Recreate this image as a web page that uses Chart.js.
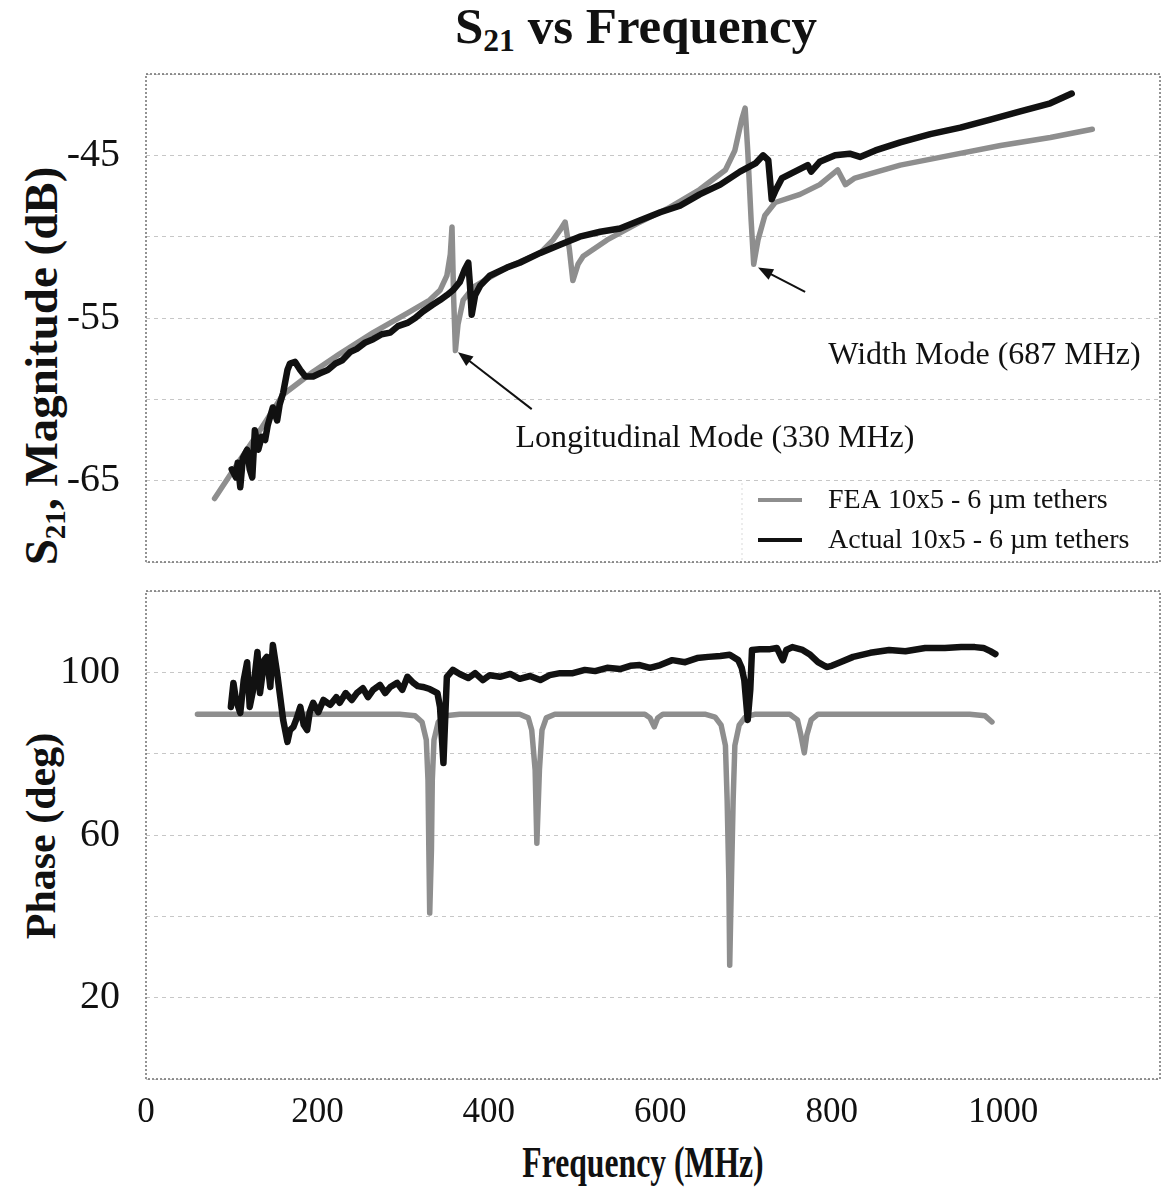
<!DOCTYPE html>
<html>
<head>
<meta charset="utf-8">
<script src="https://cdn.jsdelivr.net/npm/chart.js@4.4.1/dist/chart.umd.min.js"></script>
<style>
  body { margin: 0; background: #fff; }
  #wrap { position: relative; width: 1166px; height: 1188px; font-family: "Liberation Serif", "Times New Roman", serif; color: #111; }
  #wrap canvas { position: absolute; left: 0; }
  .lbl { position: absolute; white-space: nowrap; font-weight: bold; line-height: 1; }
  .lbl sub { font-size: 0.62em; vertical-align: -0.28em; line-height: 0; }
</style>
</head>
<body>
<div id="wrap">
  <div class="lbl" id="title" style="left:636px; top:26px; font-size:51px; transform:translate(-50%,-50%);">S<sub>21</sub> vs Frequency</div>
  <div class="lbl" style="left:41px; top:366px; font-size:47px; transform:translate(-50%,-50%) rotate(-90deg);">S<sub>21</sub>, Magnitude (dB)</div>
  <div class="lbl" style="left:41px; top:836px; font-size:42px; transform:translate(-50%,-50%) rotate(-90deg);">Phase (deg)</div>
  <div class="lbl" style="left:643px; top:1163px; font-size:44px; transform:translate(-50%,-50%) scaleX(0.72);">Frequency (MHz)</div>
  <canvas id="magChart" width="1166" height="575" style="top:0"></canvas>
  <canvas id="phaseChart" width="1166" height="613" style="top:575px"></canvas>
</div>
<script>
// S21 magnitude, FEA model (MHz, dB)
const topFeaFreq = [80, 110, 133, 160, 180, 195, 226, 265, 305, 331, 343, 351, 355, 357, 359, 361, 364, 370, 382, 401,
  421, 460, 475, 483, 489, 494, 498, 504, 510, 538, 573, 611, 646, 676, 687, 695, 699, 702, 706, 709,
  714, 722, 734, 763, 786, 807, 816, 827, 880, 938, 997, 1055, 1104];
const topFeaMag = [-66.1, -63.7, -61.9, -59.7, -58.9, -58.3, -57.2, -55.9, -54.7, -53.9, -53.3, -52.4, -51.1, -49.4, -53.9, -57.0, -55.4, -53.9, -53.1, -52.5,
  -51.9, -51.0, -50.2, -49.6, -49.1, -50.8, -52.7, -51.7, -51.2, -50.2, -49.2, -48.2, -47.1, -45.9, -44.7, -42.8, -42.1, -44.7, -49.0, -51.7,
  -50.2, -48.7, -47.9, -47.4, -46.8, -45.9, -46.8, -46.4, -45.6, -45.0, -44.4, -43.9, -43.4];

// S21 magnitude, measured (MHz, dB)
const topActFreq = [100, 105, 107, 110, 113, 118, 121, 124, 127, 131, 135, 139, 142, 148, 153, 156, 160, 165, 168, 174,
  180, 186, 195, 203, 212, 221, 229, 238, 246, 256, 265, 275, 285, 294, 305, 314, 323, 334, 343, 351,
  358, 366, 372, 376, 378, 380, 384, 390, 401, 421, 436, 460, 483, 506, 530, 553, 576, 600, 623, 646,
  670, 693, 711, 720, 726, 730, 735, 742, 757, 772, 776, 786, 804, 821, 833, 851, 880, 915, 950, 985,
  1020, 1055, 1080];
const topActMag = [-64.3, -64.8, -63.9, -65.4, -63.6, -63.1, -64.3, -64.8, -61.9, -63.1, -62.3, -62.5, -61.6, -60.5, -61.3, -60.3, -59.6, -58.2, -57.8, -57.7,
  -58.2, -58.6, -58.6, -58.4, -58.2, -57.8, -57.6, -57.1, -56.9, -56.5, -56.3, -56.0, -55.9, -55.5, -55.3, -55.0, -54.6, -54.2, -53.9, -53.6,
  -53.3, -52.8, -52.0, -51.6, -53.0, -54.8, -53.6, -53.0, -52.4, -51.9, -51.6, -51.0, -50.5, -50.0, -49.7, -49.5, -49.0, -48.5, -48.1, -47.4,
  -46.8, -46.0, -45.5, -45.0, -45.3, -47.7, -47.1, -46.4, -46.0, -45.6, -46.0, -45.4, -45.0, -44.9, -45.1, -44.7, -44.2, -43.7, -43.3, -42.8,
  -42.3, -41.8, -41.2];

// Phase, FEA model (MHz, deg)
const botFeaFreq = [60, 121, 200, 296, 314, 322, 327, 329, 330, 331, 333, 334, 336, 341, 349, 366, 436, 446, 450, 454,
  456, 459, 462, 467, 477, 582, 588, 593, 597, 603, 652, 664, 671, 676, 678, 680, 681, 683, 685, 687,
  692, 699, 711, 751, 760, 764, 768, 771, 776, 784, 961, 979, 987];
const botFeaPhase = [89.7, 89.7, 89.7, 89.7, 89.3, 87.8, 83.4, 73.5, 56.3, 40.8, 56.3, 73.5, 83.4, 87.8, 89.3, 89.7, 89.7, 88.8, 85.8, 76,
  58, 76, 85.8, 88.8, 89.7, 89.7, 88.8, 86.6, 88.8, 89.7, 89.7, 89, 87, 82, 68.6, 48.9, 28, 48.9, 68.6, 82,
  87, 89, 89.7, 89.7, 88.3, 84.6, 80.2, 84.6, 88.3, 89.7, 89.7, 89.3, 87.8];

// Phase, measured (MHz, deg)
const botActFreq = [99, 102, 105, 110, 114, 118, 121, 125, 130, 133, 138, 141, 145, 148, 153, 156, 160, 165, 168, 172,
  176, 180, 184, 188, 191, 195, 201, 207, 215, 222, 226, 233, 240, 246, 253, 259, 265, 273, 279, 285,
  293, 299, 305, 312, 317, 323, 331, 340, 343, 345, 347, 349, 351, 358, 366, 376, 384, 393, 401, 413,
  425, 436, 448, 460, 471, 483, 498, 512, 524, 538, 553, 565, 576, 588, 600, 614, 629, 643, 656, 670,
  681, 691, 695, 698, 700, 702, 705, 707, 716, 728, 736, 741, 743, 747, 754, 766, 775, 784, 794, 800,
  810, 825, 845, 867, 886, 909, 932, 951, 967, 977, 985, 991];
const botActPhase = [91.5, 97.4, 93.2, 90.0, 98.1, 102.5, 91.5, 95.7, 105.0, 94.9, 103.0, 103.8, 96.4, 106.7, 99.8, 94.9, 88.3, 82.9, 85.8, 86.6,
  88.8, 91.5, 87.1, 85.8, 90.2, 92.5, 90.2, 93.2, 92.0, 93.9, 92.5, 94.9, 93.2, 94.9, 96.1, 93.9, 95.7, 96.9, 94.9, 96.4,
  97.4, 95.7, 98.9, 97.4, 96.6, 96.4, 95.9, 94.9, 91.5, 84.6, 77.7, 88.3, 98.9, 100.6, 99.6, 98.6, 99.8, 98.1, 99.3, 98.9,
  99.6, 98.4, 99.1, 98.1, 99.3, 99.8, 99.8, 100.6, 100.3, 101.1, 100.8, 101.6, 101.8, 101.1, 101.8, 103.0, 102.5, 103.5, 103.8, 104.0,
  104.3, 103.0, 101.1, 98.1, 93.2, 88.3, 95.7, 105.5, 105.7, 105.7, 106.0, 103.8, 103.0, 105.5, 106.2, 105.5, 104.3, 102.5, 101.3, 101.6,
  102.5, 103.8, 104.8, 105.5, 105.2, 106.0, 106.0, 106.2, 106.2, 106.0, 105.2, 104.5];

const xTickLabels = [0, 200, 400, 600, 800, 1000];
const magTickLabels = [-45, -55, -65];
const phaseTickLabels = [20, 60, 100];

const FONT = '"Liberation Serif", "Times New Roman", serif';
const FEA_COLOR = '#8e8e8e';
const ACT_COLOR = '#111111';
const GRID = 'rgba(0,0,0,0.22)';
const X_MAX = 1183;

const pts = (xs, ys) => xs.map((x, i) => ({ x, y: ys[i] }));

const framePlugin = {
    id: 'frame',
    beforeDatasetsDraw(chart) {
        const { ctx, chartArea: a } = chart;
        ctx.save();
        ctx.strokeStyle = '#707070';
        ctx.lineWidth = 1.5;
        ctx.setLineDash([2, 2]);
        ctx.strokeRect(a.left, a.top, a.right - a.left, a.bottom - a.top);
        ctx.restore();
    }
};

// legend in the lower right corner of the magnitude panel
const legendPlugin = {
    id: 'cornerLegend',
    afterDatasetsDraw(chart) {
        const { ctx, chartArea: a } = chart;
        ctx.save();
        ctx.strokeStyle = 'rgba(0,0,0,0.15)';
        ctx.lineWidth = 1;
        ctx.setLineDash([2, 3]);
        ctx.beginPath();
        ctx.moveTo(a.right - 418, a.bottom - 79);
        ctx.lineTo(a.right - 418, a.bottom);
        ctx.stroke();
        ctx.setLineDash([]);
        const rows = [chart.data.datasets[0], chart.data.datasets[1]];
        rows.forEach((ds, i) => {
            const y = a.bottom - 62 + i * 40;
            ctx.strokeStyle = ds.borderColor;
            ctx.lineWidth = 4;
            ctx.beginPath();
            ctx.moveTo(a.right - 402, y);
            ctx.lineTo(a.right - 358, y);
            ctx.stroke();
            ctx.fillStyle = '#111';
            ctx.font = `28px ${FONT}`;
            ctx.textBaseline = 'middle';
            ctx.fillText(ds.label, a.right - 332, y + 1);
        });
        ctx.restore();
    }
};

// mode labels with arrows, anchored in data units
const notes = [
    { text: 'Longitudinal Mode (330 MHz)', at: [431, -62.4], from: [450, -60.6], to: [364, -57.1] },
    { text: 'Width Mode (687 MHz)', at: [796, -57.3], from: [769, -53.4], to: [714, -51.9] }
];
const notePlugin = {
    id: 'modeNotes',
    afterDatasetsDraw(chart) {
        const { ctx, scales: { x, y } } = chart;
        ctx.save();
        notes.forEach(n => {
            const x0 = x.getPixelForValue(n.from[0]), y0 = y.getPixelForValue(n.from[1]);
            const x1 = x.getPixelForValue(n.to[0]), y1 = y.getPixelForValue(n.to[1]);
            const ang = Math.atan2(y1 - y0, x1 - x0);
            ctx.strokeStyle = '#111';
            ctx.fillStyle = '#111';
            ctx.lineWidth = 2;
            ctx.beginPath();
            ctx.moveTo(x0, y0);
            ctx.lineTo(x1 - 10 * Math.cos(ang), y1 - 10 * Math.sin(ang));
            ctx.stroke();
            ctx.beginPath();
            ctx.moveTo(x1, y1);
            ctx.lineTo(x1 - 15 * Math.cos(ang) + 6 * Math.sin(ang), y1 - 15 * Math.sin(ang) - 6 * Math.cos(ang));
            ctx.lineTo(x1 - 15 * Math.cos(ang) - 6 * Math.sin(ang), y1 - 15 * Math.sin(ang) + 6 * Math.cos(ang));
            ctx.closePath();
            ctx.fill();
            ctx.font = `32px ${FONT}`;
            ctx.textBaseline = 'middle';
            ctx.fillText(n.text, x.getPixelForValue(n.at[0]), y.getPixelForValue(n.at[1]));
        });
        ctx.restore();
    }
};

const lineSet = (label, data, color, width, order) => ({
    label, data, order,
    borderColor: color,
    borderWidth: width,
    pointRadius: 0,
    tension: 0,
    borderJoinStyle: 'round',
    borderCapStyle: 'round',
    fill: false
});

const yScale = (min, max, step, shown) => ({
    min, max,
    afterFit: s => { s.width = 146; s.paddingTop = 0; s.paddingBottom = 0; },
    ticks: {
        stepSize: step,
        padding: 26,
        color: '#111',
        font: { family: FONT, size: 40 },
        callback: v => shown.includes(v) ? String(v) : ''
    },
    grid: { color: GRID, lineWidth: 1, drawTicks: false },
    border: { display: false, dash: [4, 4] }
});

const baseOptions = {
    responsive: false,
    animation: false,
    events: [],
    plugins: { legend: { display: false }, tooltip: { enabled: false } }
};

new Chart(document.getElementById('magChart'), {
    type: 'line',
    data: {
        datasets: [
            lineSet('FEA 10x5 - 6 \u00b5m tethers', pts(topFeaFreq, topFeaMag), FEA_COLOR, 5.5, 1),
            lineSet('Actual 10x5 - 6 \u00b5m tethers', pts(topActFreq, topActMag), ACT_COLOR, 6.5, 0)
        ]
    },
    options: {
        ...baseOptions,
        layout: { autoPadding: false, padding: { top: 74, right: 6, bottom: 13, left: 0 } },
        scales: {
            x: { type: 'linear', min: 0, max: X_MAX, display: false },
            y: yScale(-70, -40, 5, magTickLabels)
        }
    },
    plugins: [framePlugin, legendPlugin, notePlugin]
});

new Chart(document.getElementById('phaseChart'), {
    type: 'line',
    data: {
        datasets: [
            lineSet('FEA', pts(botFeaFreq, botFeaPhase), FEA_COLOR, 5.5, 1),
            lineSet('Actual', pts(botActFreq, botActPhase), ACT_COLOR, 6.5, 0)
        ]
    },
    options: {
        ...baseOptions,
        layout: { autoPadding: false, padding: { top: 16, right: 6, bottom: 0, left: 0 } },
        scales: {
            x: {
                type: 'linear', min: 0, max: X_MAX,
                afterBuildTicks: s => { s.ticks = xTickLabels.map(v => ({ value: v })); },
                afterFit: s => { s.height = 109; s.paddingLeft = 0; s.paddingRight = 0; },
                ticks: {
                    autoSkip: false,
                    maxRotation: 0,
                    padding: 13,
                    color: '#111',
                    font: { family: FONT, size: 35 },
                    callback: v => String(v)
                },
                grid: { display: false, drawTicks: false },
                border: { display: false }
            },
            y: yScale(0, 120, 20, phaseTickLabels)
        }
    },
    plugins: [framePlugin]
});
</script>
</body>
</html>
